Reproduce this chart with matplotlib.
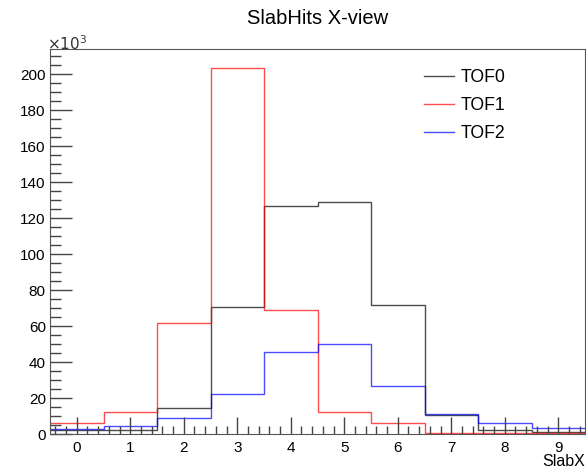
import numpy as np
import matplotlib.pyplot as plt
from matplotlib.ticker import MultipleLocator

plt.rcParams['font.family'] = ['Liberation Sans', 'DejaVu Sans']

# histogram contents (in units of 10^3), bins centred on 0..9
slabs = np.arange(10)
tof0 = [2.3, 2.5, 14.5, 70.5, 126.5, 129.0, 71.5, 10.5, 2.3, 1.2]
tof1 = [6.0, 12.5, 61.5, 203.5, 69.0, 12.0, 6.0, 0.4, 0.3, 0.3]
tof2 = [3.0, 4.5, 9.0, 22.0, 45.5, 50.0, 26.5, 11.0, 6.0, 3.3]
names = ["TOF0", "TOF1", "TOF2"]
colors = ["black", "red", "blue"]

edges = np.append(slabs - 0.5, slabs[-1] + 0.5)

fig = plt.figure(figsize=(5.86, 4.71), dpi=100)
ax = fig.add_axes([50 / 586, 1 - 434 / 471, 535 / 586, 385 / 471])

for vals, name, c in zip([tof0, tof1, tof2], names, colors):
    ax.stairs(vals, edges, color=c, lw=1, alpha=0.7, label=name, baseline=None)

ax.set_xlim(-0.5, 9.5)
ax.set_ylim(0, 214)
ax.xaxis.set_major_locator(MultipleLocator(1))
ax.xaxis.set_minor_locator(MultipleLocator(0.2))
ax.yaxis.set_major_locator(MultipleLocator(20))
ax.yaxis.set_minor_locator(MultipleLocator(5))
ax.tick_params(which="both", direction="in", top=False, right=False, labelsize=11, width=1, color="#444444")
ax.tick_params(axis="x", which="major", length=12, pad=5)
ax.tick_params(axis="x", which="minor", length=6)
ax.tick_params(axis="y", which="major", length=16, pad=3)
ax.tick_params(axis="y", which="minor", length=8)
for s in ax.spines.values():
    s.set_color("#555555")

fig.text(318 / 586, 1 - 19 / 471, "SlabHits X-view", ha="center", va="center", fontsize=14.5)
fig.text(47 / 586, 1 - 44 / 471, r"$\times10^{3}$", ha="left", va="center", fontsize=11, color="#333333")
ax.set_xlabel("SlabX", fontsize=11.5, ha="right", va="center")
ax.xaxis.set_label_coords(1.0, -0.072)

ax.legend(loc="upper left", bbox_to_anchor=(0.669, 0.99), frameon=False, fontsize=12.7,
          handlelength=1.7, handletextpad=0.4, labelspacing=0.63)

fig.savefig("out.png", dpi=100)
